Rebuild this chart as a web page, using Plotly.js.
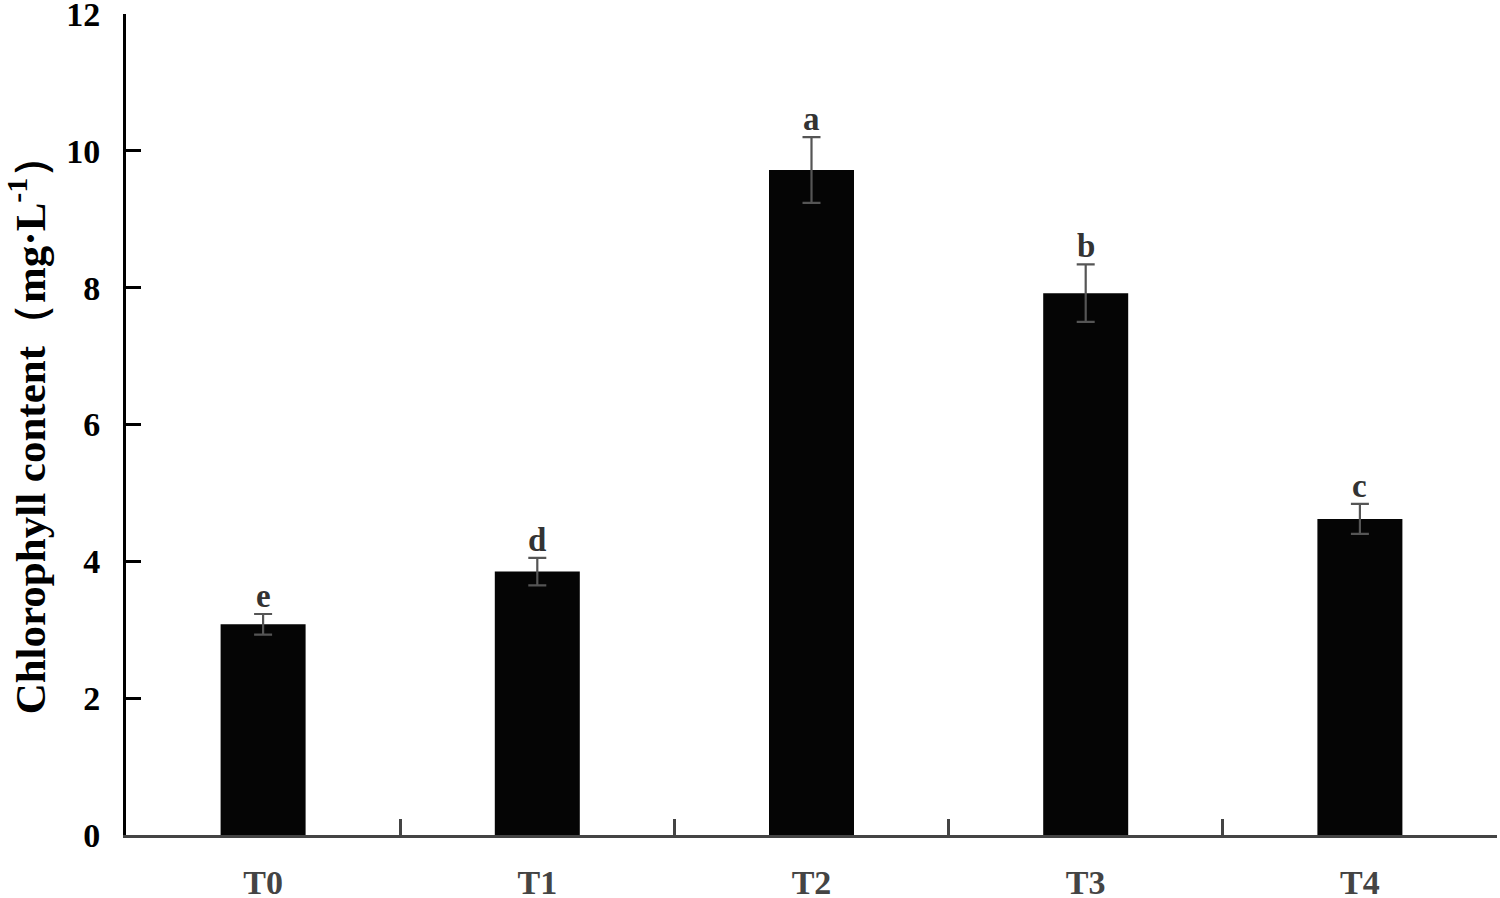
<!DOCTYPE html>
<html>
<head>
<meta charset="utf-8">
<script src="https://cdn.plot.ly/plotly-3.0.1.min.js"></script>
<style>html,body{margin:0;padding:0;background:#fff;}#chart{width:1500px;height:898px;}</style>
</head>
<body>
<div id="chart"></div>
<script>
const categories = ["T0", "T1", "T2", "T3", "T4"];
const chlorophyll = [3.08, 3.85, 9.72, 7.92, 4.62];
const errors = [0.15, 0.2, 0.48, 0.42, 0.22];
const letters = ["e", "d", "a", "b", "c"];
const yTicks = [0, 2, 4, 6, 8, 10, 12];

const serif = "Liberation Serif, Times New Roman, serif";

const trace = {
  type: "bar",
  x: categories,
  y: chlorophyll,
  marker: {color: "#050505", line: {width: 0}},
  error_y: {type: "data", array: errors, visible: true, color: "#555555", thickness: 2.2, width: 9},
  hoverinfo: "skip"
};

const annotations = categories.map((c, i) => ({
  x: c, y: chlorophyll[i] + errors[i], xref: "x", yref: "y",
  text: "<b>" + letters[i] + "</b>", showarrow: false,
  yanchor: "bottom", yshift: -2,
  font: {family: serif, size: 33, color: "#333333"}
}));

const layout = {
  width: 1500, height: 898,
  margin: {l: 126, r: 3, t: 14, b: 63},
  paper_bgcolor: "#ffffff", plot_bgcolor: "#ffffff",
  showlegend: false,
  bargap: 0.69,
  xaxis: {
    type: "category",
    showgrid: false, zeroline: false,
    showline: true, linecolor: "#444444", linewidth: 3,
    ticks: "inside", tickson: "boundaries", ticklen: 16, tickwidth: 3, tickcolor: "#444444",
    tickfont: {family: serif, size: 34, color: "#444444", weight: "bold"},
    ticklabelstandoff: 15,
    ticklabeloverflow: "allow"
  },
  yaxis: {
    range: [0, 12], tickvals: yTicks, ticktext: yTicks.map(String),
    showgrid: false, zeroline: false,
    showline: true, linecolor: "#000000", linewidth: 3,
    ticks: "inside", ticklen: 15, tickwidth: 3, tickcolor: "#000000",
    tickfont: {family: serif, size: 34, color: "#000000", weight: "bold"},
    ticklabelstandoff: 16,
    ticklabeloverflow: "allow",
    title: {text: "<b>Chlorophyll content（mg·L<sup>-1</sup>）</b>", font: {family: serif, size: 43, color: "#000000"}, standoff: 8}
  },
  annotations: annotations
};

Plotly.newPlot("chart", [trace], layout, {displayModeBar: false, staticPlot: true});
</script>
</body>
</html>
